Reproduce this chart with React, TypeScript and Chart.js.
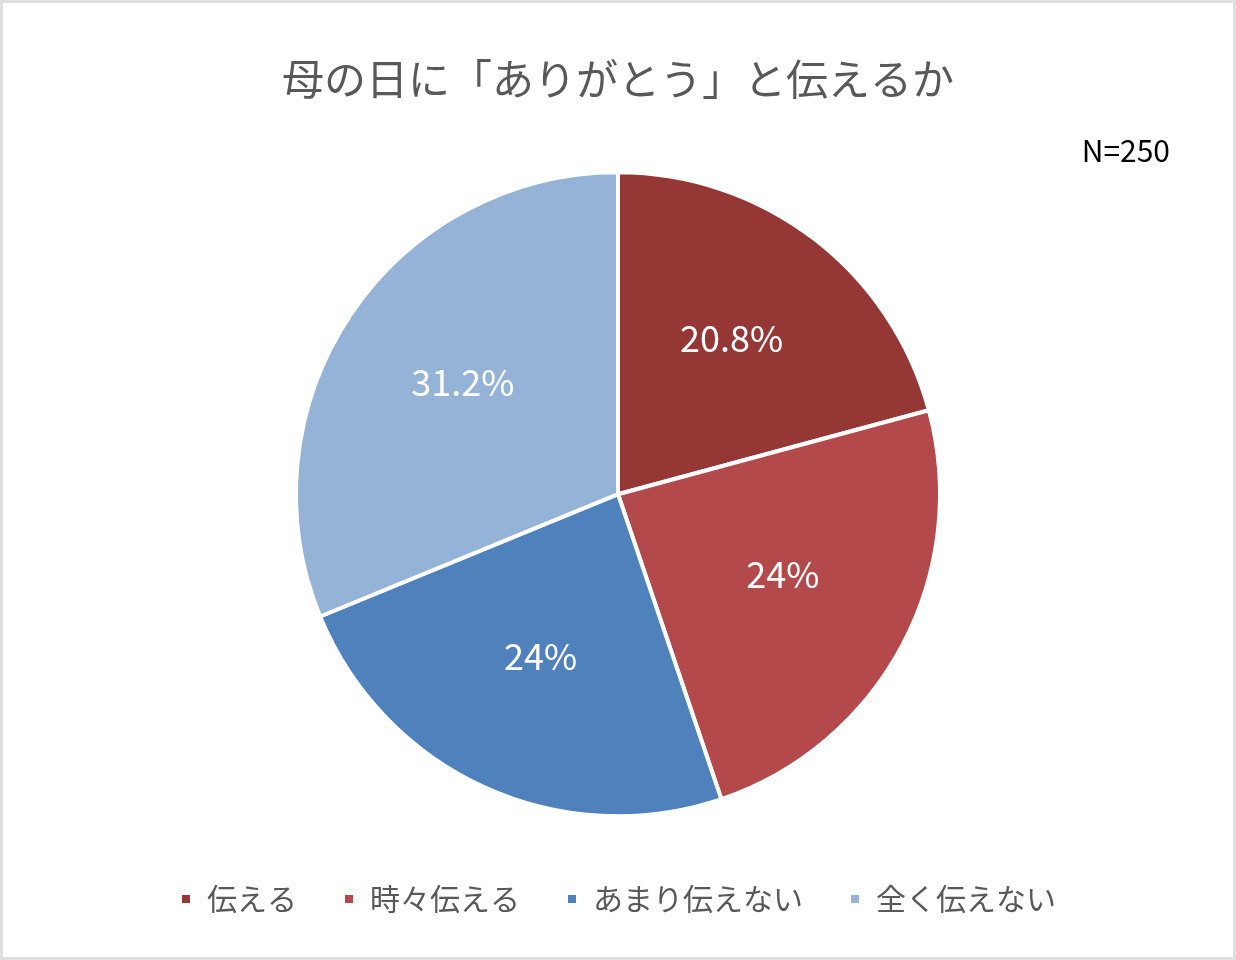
import React, { useEffect, useRef } from "react";
import { Chart, registerables } from "chart.js";

Chart.register(...registerables);

const categories = ["伝える", "時々伝える", "あまり伝えない", "全く伝えない"];
const values = [20.8, 24, 24, 31.2];
const valueLabels = ["20.8%", "24%", "24%", "31.2%"];
const colors = ["#953735", "#B3494A", "#4F81BD", "#95B3D7"];
const titleText = "母の日に「ありがとう」と伝えるか";
const noteText = "N=250";

const FONT = "'Noto Sans CJK JP', 'Noto Sans', sans-serif";

const labelPlugin = {
  id: "sliceLabels",
  afterDatasetsDraw(chart: any) {
    const ctx = chart.ctx;
    const meta = chart.getDatasetMeta(0);
    ctx.save();
    ctx.fillStyle = "#FFFFFF";
    ctx.font = `36px ${FONT}`;
    ctx.textAlign = "center";
    ctx.textBaseline = "middle";
    meta.data.forEach((arc: any, i: number) => {
      const p = arc.getProps(["x", "y", "startAngle", "endAngle", "outerRadius"], true);
      const mid = (p.startAngle + p.endAngle) / 2;
      const r = p.outerRadius * 0.58;
      ctx.fillText(valueLabels[i], p.x + Math.cos(mid) * r, p.y + Math.sin(mid) * r - 8);
    });
    ctx.fillStyle = "#000000";
    ctx.font = `30px ${FONT}`;
    ctx.textAlign = "right";
    ctx.fillText(noteText, 1170, 151);
    ctx.restore();
  },
};

export default function App() {
  const ref = useRef<HTMLCanvasElement>(null);
  useEffect(() => {
    document.body.style.margin = "0";
    const chart = new Chart(ref.current!, {
      type: "pie",
      data: {
        labels: categories,
        datasets: [
          {
            data: values,
            backgroundColor: colors,
            borderColor: "#FFFFFF",
            borderWidth: 4,
            radius: 322,
          },
        ],
      },
      options: {
        animation: false,
        responsive: false,
        layout: { padding: { left: 0, right: 0, top: 0, bottom: 36 } },
        plugins: {
          title: {
            display: true,
            text: titleText,
            color: "#595959",
            font: { family: FONT, size: 42, weight: "normal" },
            padding: { top: 54, bottom: 46 },
          },
          legend: {
            position: "bottom",
            labels: {
              color: "#595959",
              font: { family: FONT, size: 30 },
              boxWidth: 12,
              boxHeight: 12,
              padding: 46,
            },
          },
          tooltip: { enabled: false },
        },
      },
      plugins: [labelPlugin],
    });
    return () => chart.destroy();
  }, []);
  return (
    <div style={{ position: "relative", width: 1236, height: 960, background: "#fff" }}>
      <canvas ref={ref} width={1236} height={960} style={{ display: "block" }} />
      <div
        style={{
          position: "absolute",
          inset: 0,
          border: "3px solid #E0E0E0",
          pointerEvents: "none",
        }}
      />
    </div>
  );
}
